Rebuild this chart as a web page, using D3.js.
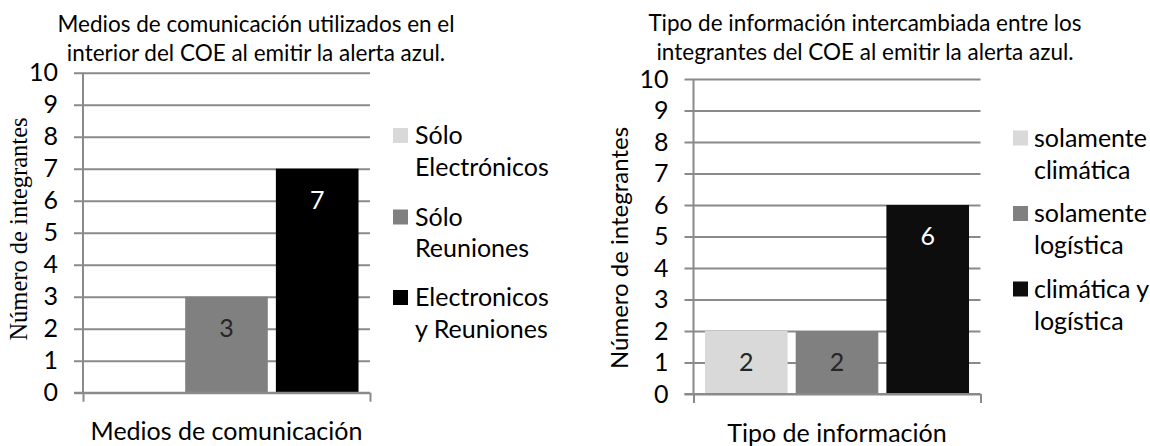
<!DOCTYPE html>
<html>
<head>
<meta charset="utf-8">
<script src="https://cdn.jsdelivr.net/npm/d3@7"></script>
<style>
  html, body { margin: 0; padding: 0; background: #ffffff; }
  svg { display: block; }
</style>
</head>
<body>
<svg id="chart" width="1150" height="446"></svg>
<script>
// ---------- DATA ----------
const leftTitle = ["Medios de comunicación utilizados en el", "interior del COE al emitir la alerta azul."];
const leftCategory = "Medios de comunicación";
const leftSeries = ["Sólo Electrónicos", "Sólo Reuniones", "Electronicos y Reuniones"];
const leftLegendLines = [["Sólo", "Electrónicos"], ["Sólo", "Reuniones"], ["Electronicos", "y Reuniones"]];
const leftValues = [0, 3, 7];

const rightTitle = ["Tipo de información intercambiada entre los", "integrantes del COE al emitir la alerta azul."];
const rightCategory = "Tipo de información";
const rightSeries = ["solamente climática", "solamente logística", "climática y logística"];
const rightLegendLines = [["solamente", "climática"], ["solamente", "logística"], ["climática y", "logística"]];
const rightValues = [2, 2, 6];

const yAxisTitle = "Número de integrantes";
const yTickValues = [0, 1, 2, 3, 4, 5, 6, 7, 8, 9, 10];

// ---------- STYLE / LAYOUT ----------
const SANS = "Lato, 'Open Sans', sans-serif";
const SERIF = "'Liberation Serif', 'DejaVu Serif', serif";
const GRID = "#8a8a8a";
const FS = 25;

const charts = [
  {
    title: leftTitle, category: leftCategory, series: leftSeries, legend: leftLegendLines, values: leftValues,
    colors: ["#d9d9d9", "#808080", "#000000"],
    labelColors: ["#262626", "#262626", "#ffffff"],
    x0: 83, x1: 370, yTop: 72.7, yBottom: 392.7,
    titleX: 256, titleY: [31.5, 60.5],
    yTitleFont: SERIF, yTitleSize: 24.5, yTitleX: 18, yTitleY: 229,
    xTitleY: 440,
    legendSqX: 393, legendTextX: 415, legendY: [135.5, 217, 297.5], legendLine: 31.5
  },
  {
    title: rightTitle, category: rightCategory, series: rightSeries, legend: rightLegendLines, values: rightValues,
    colors: ["#d9d9d9", "#808080", "#0d0d0d"],
    labelColors: ["#262626", "#262626", "#ffffff"],
    x0: 693.5, x1: 980.5, yTop: 79, yBottom: 394,
    titleX: 865, titleY: [30.5, 59.5],
    yTitleFont: SANS, yTitleSize: 24, yTitleX: 620, yTitleY: 248,
    xTitleY: 442,
    legendSqX: 1013, legendTextX: 1034, legendY: [138, 213.5, 289], legendLine: 32
  }
];

const svg = d3.select("#chart");

charts.forEach(c => {
  const g = svg.append("g");
  const W = c.x1 - c.x0;

  const y = d3.scaleLinear().domain([0, 10]).range([c.yBottom, c.yTop]);
  const xOuter = d3.scaleBand().domain([c.category]).range([c.x0, c.x1]).paddingOuter(0.0435).paddingInner(0);
  const xInner = d3.scaleBand().domain(c.series).range([0, xOuter.bandwidth()]).paddingInner(0.0889).paddingOuter(0);

  // gridlines + y tick labels
  const yAxis = d3.axisLeft(y).tickValues(yTickValues).tickSize(-(W + 9)).tickPadding(16).tickFormat(d3.format("d"));
  const ga = g.append("g").attr("transform", `translate(${c.x0 - 9},0)`).call(yAxis);
  ga.select(".domain").remove();
  ga.selectAll(".tick line").attr("stroke", GRID).attr("stroke-width", 2);
  ga.selectAll(".tick text")
    .attr("font-family", SANS).attr("font-size", FS).attr("fill", "#000");

  // vertical axis line
  g.append("line")
    .attr("x1", c.x0).attr("x2", c.x0)
    .attr("y1", y(10)).attr("y2", y(0))
    .attr("stroke", GRID).attr("stroke-width", 2);

  // bottom axis tick marks (category boundaries)
  const xAxis = d3.axisBottom(d3.scaleLinear().domain([0, 1]).range([c.x0, c.x1]))
    .tickValues([0, 1]).tickSize(9).tickFormat("");
  const gx = g.append("g").attr("transform", `translate(0,${y(0)})`).call(xAxis);
  gx.select(".domain").remove();
  gx.selectAll(".tick line").attr("stroke", GRID).attr("stroke-width", 2);

  // bars
  const data = c.series.map((s, i) => ({ s, v: c.values[i], i }));
  g.append("g").selectAll("rect").data(data).join("rect")
    .attr("x", d => xOuter(c.category) + xInner(d.s))
    .attr("width", xInner.bandwidth())
    .attr("y", d => y(d.v))
    .attr("height", d => y(0) - y(d.v))
    .attr("fill", d => c.colors[d.i]);

  // redraw baseline over bars
  g.append("line")
    .attr("x1", c.x0 - 9).attr("x2", c.x1)
    .attr("y1", y(0)).attr("y2", y(0))
    .attr("stroke", GRID).attr("stroke-width", 2);

  // data labels
  g.append("g").selectAll("text").data(data.filter(d => d.v > 0)).join("text")
    .attr("x", d => xOuter(c.category) + xInner(d.s) + xInner.bandwidth() / 2)
    .attr("y", d => y(d.v) + 40)
    .attr("text-anchor", "middle")
    .attr("font-family", SANS).attr("font-size", FS)
    .attr("fill", d => c.labelColors[d.i])
    .text(d => d.v);

  // title
  g.append("g").selectAll("text").data(c.title).join("text")
    .attr("x", c.titleX).attr("y", (d, i) => c.titleY[i])
    .attr("text-anchor", "middle")
    .attr("font-family", SANS).attr("font-size", 22.5)
    .attr("fill", "#000")
    .text(d => d);

  // y axis title
  g.append("text")
    .attr("transform", `translate(${c.yTitleX},${c.yTitleY}) rotate(-90)`)
    .attr("text-anchor", "middle").attr("dy", "0.35em")
    .attr("font-family", c.yTitleFont).attr("font-size", c.yTitleSize)
    .attr("fill", "#000")
    .text(yAxisTitle);

  // x axis title
  g.append("text")
    .attr("x", (c.x0 + c.x1) / 2).attr("y", c.xTitleY)
    .attr("text-anchor", "middle")
    .attr("font-family", SANS).attr("font-size", FS)
    .attr("fill", "#000")
    .text(c.category);

  // legend
  const lg = g.append("g").selectAll("g").data(c.legend).join("g");
  lg.append("rect")
    .attr("x", c.legendSqX).attr("y", (d, i) => c.legendY[i] - 7.5)
    .attr("width", 15).attr("height", 15)
    .attr("fill", (d, i) => c.colors[i]);
  lg.each(function(lines, i) {
    d3.select(this).selectAll("text").data(lines).join("text")
      .attr("x", c.legendTextX)
      .attr("y", (d, j) => c.legendY[i] + 8.5 + j * c.legendLine)
      .attr("font-family", SANS).attr("font-size", FS)
      .attr("fill", "#000")
      .text(d => d);
  });
});
</script>
</body>
</html>
